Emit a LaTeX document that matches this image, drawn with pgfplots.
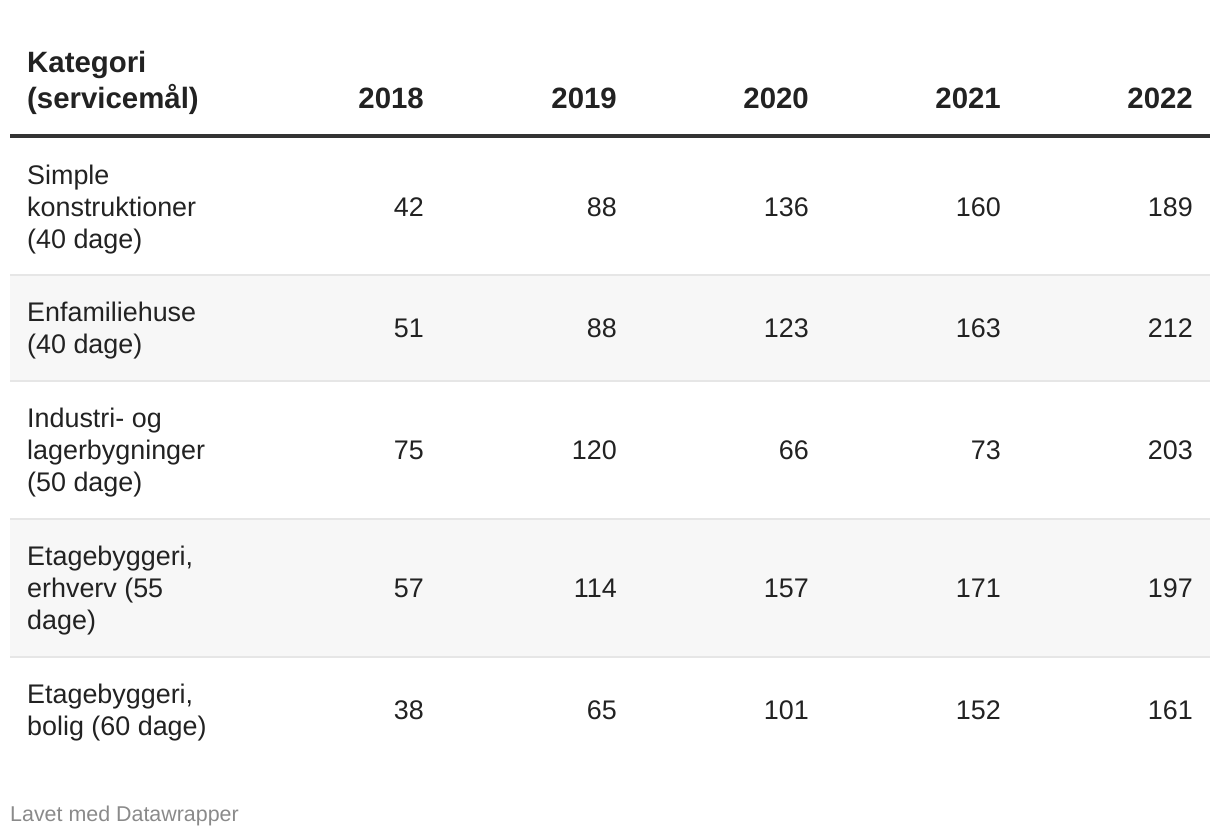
\documentclass[border=0pt]{standalone}
\usepackage{fontspec}
\setmainfont{Liberation Sans}
\usepackage{pgfplots}
\usepackage{pgfplotstable}
\pgfplotsset{compat=1.18}
\definecolor{txt}{HTML}{222222}
\definecolor{hdr}{HTML}{333333}
\definecolor{rowbg}{HTML}{F7F7F7}
\definecolor{sep}{HTML}{E6E6E6}
\definecolor{foot}{HTML}{8A8A8A}

% y = baseline of the value in each row (pixel rows, top down)
\pgfplotstableread{
y v2018 v2019 v2020 v2021 v2022
216.5 42 88 136 160 189
337.5 51 88 123 163 212
459.5 75 120 66 73 203
597.5 57 114 157 171 197
719.5 38 65 101 152 161
}\datatable

\begin{document}
\begin{tikzpicture}
\begin{axis}[
  scale only axis, width=1220bp, height=838bp,
  xmin=0, xmax=1220, ymin=0, ymax=838, y dir=reverse,
  hide axis, clip=false,
  nodes near coords={\pgfplotspointmeta},
  point meta=explicit symbolic,
  every node near coord/.style={anchor=base east, inner sep=0pt, text=txt,
     font=\fontsize{27}{32}\selectfont},
]
\path (axis cs:0,0) rectangle (axis cs:1220,838);
% row backgrounds
\fill[rowbg] (axis cs:10,275) rectangle (axis cs:1210,381);
\fill[rowbg] (axis cs:10,519) rectangle (axis cs:1210,656);
% separators
\draw[sep, line width=2bp] (axis cs:10,274.5) -- (axis cs:1210,274.5);
\draw[sep, line width=2bp] (axis cs:10,381) -- (axis cs:1210,381);
\draw[sep, line width=2bp] (axis cs:10,518.5) -- (axis cs:1210,518.5);
\draw[sep, line width=2bp] (axis cs:10,656.5) -- (axis cs:1210,656.5);
\draw[hdr, line width=4bp] (axis cs:10,135.5) -- (axis cs:1210,135.5);

% header
\tikzset{hd/.style={inner sep=0pt, text=txt, font=\bfseries\fontsize{29.5}{36}\selectfont}}
\node[hd, anchor=base west] at (axis cs:27,73) {Kategori};
\node[hd, anchor=base west] at (axis cs:27,109) {(servicemål)};
\node[hd, anchor=base east] at (axis cs:424,109) {2018};
\node[hd, anchor=base east] at (axis cs:617,109) {2019};
\node[hd, anchor=base east] at (axis cs:809,109) {2020};
\node[hd, anchor=base east] at (axis cs:1001,109) {2021};
\node[hd, anchor=base east] at (axis cs:1193,109) {2022};

% category labels (one node per line, baseline placed)
\tikzset{cat/.style={anchor=base west, inner sep=0pt, text=txt, font=\fontsize{27}{32}\selectfont}}
\node[cat] at (axis cs:27,184.5) {Simple};
\node[cat] at (axis cs:27,216.5) {konstruktioner};
\node[cat] at (axis cs:27,248.5) {(40 dage)};
\node[cat] at (axis cs:27,321.5) {Enfamiliehuse};
\node[cat] at (axis cs:27,353.5) {(40 dage)};
\node[cat] at (axis cs:27,427.5) {Industri- og};
\node[cat] at (axis cs:27,459.5) {lagerbygninger};
\node[cat] at (axis cs:27,491.5) {(50 dage)};
\node[cat] at (axis cs:27,565.5) {Etagebyggeri,};
\node[cat] at (axis cs:27,597.5) {erhverv (55};
\node[cat] at (axis cs:27,629.5) {dage)};
\node[cat] at (axis cs:27,703.5) {Etagebyggeri,};
\node[cat] at (axis cs:27,735.5) {bolig (60 dage)};

% values
\addplot[draw=none, mark=none] table[x expr=424, y=y, meta=v2018] {\datatable};
\addplot[draw=none, mark=none] table[x expr=617, y=y, meta=v2019] {\datatable};
\addplot[draw=none, mark=none] table[x expr=809, y=y, meta=v2020] {\datatable};
\addplot[draw=none, mark=none] table[x expr=1001, y=y, meta=v2021] {\datatable};
\addplot[draw=none, mark=none] table[x expr=1193, y=y, meta=v2022] {\datatable};

% footer
\node[anchor=base west, inner sep=0pt, text=foot, font=\fontsize{21.5}{26}\selectfont] at (axis cs:10,821.5) {Lavet med Datawrapper};
\end{axis}
\end{tikzpicture}
\end{document}
